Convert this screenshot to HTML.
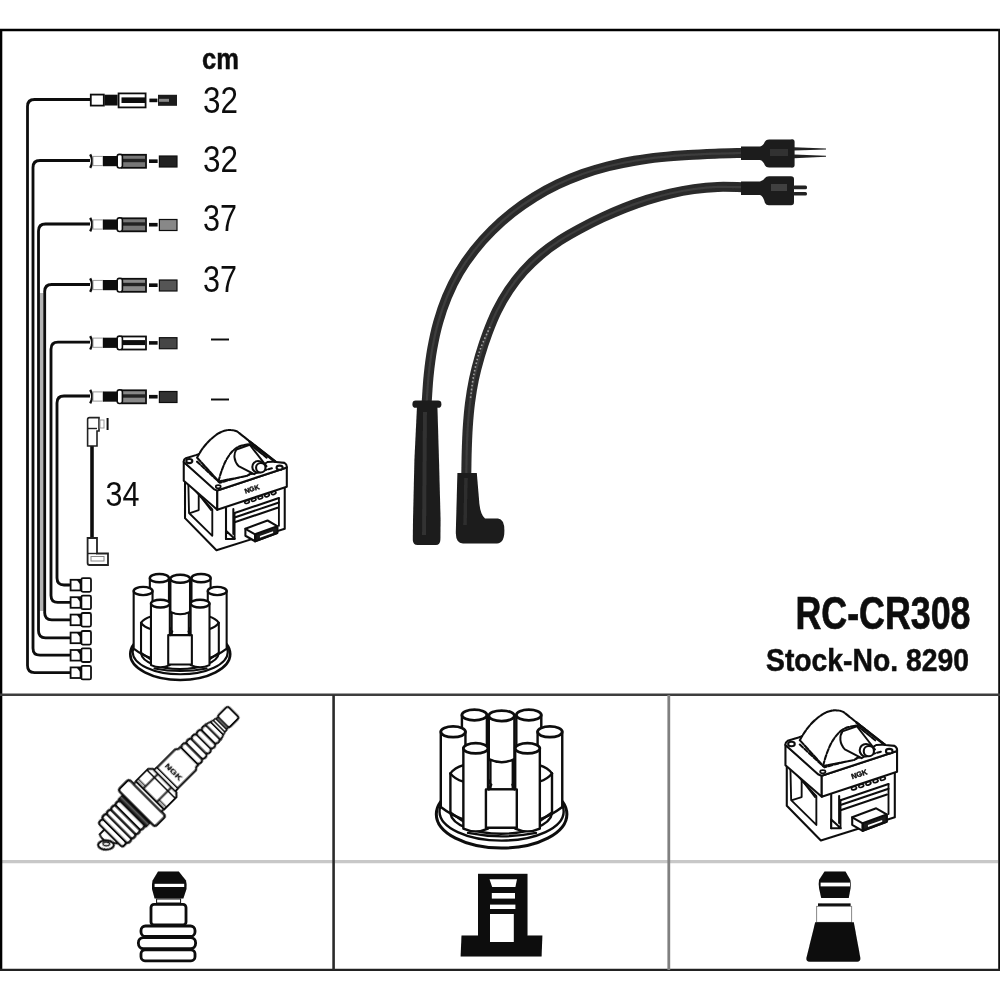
<!DOCTYPE html>
<html><head><meta charset="utf-8"><title>RC-CR308</title>
<style>
html,body{margin:0;padding:0;background:#fff;}
body{width:1000px;height:1000px;overflow:hidden;font-family:"Liberation Sans",sans-serif;}
svg{display:block;}
text{font-family:"Liberation Sans",sans-serif;fill:#111;}
.b{font-weight:bold;}
</style></head><body>
<svg width="1000" height="1000" viewBox="0 0 1000 1000">
<defs>
<filter id="soft" x="-5%" y="-5%" width="110%" height="110%"><feGaussianBlur stdDeviation="0.45"/></filter>
<filter id="soft2" x="-5%" y="-5%" width="110%" height="110%"><feGaussianBlur stdDeviation="0.7"/></filter>
<filter id="soft3" x="-5%" y="-5%" width="110%" height="110%"><feGaussianBlur stdDeviation="1.0"/></filter>
</defs>
<rect width="1000" height="1000" fill="#fff"/>
<!-- FRAME -->
<g id="frame" filter="url(#soft2)">
<line x1="2" y1="861.6" x2="998" y2="861.6" stroke="#c8c8c8" stroke-width="3.4"/>
<line x1="0" y1="30" x2="1000" y2="30" stroke="#000" stroke-width="2.4"/>
<line x1="1" y1="29" x2="1" y2="971" stroke="#000" stroke-width="2.6"/>
<line x1="999.2" y1="29" x2="999.2" y2="971" stroke="#111" stroke-width="2"/>
<line x1="0" y1="969.8" x2="1000" y2="969.8" stroke="#222" stroke-width="2.2"/>
<line x1="0" y1="694.8" x2="1000" y2="694.8" stroke="#3c3c3c" stroke-width="2.6"/>
<line x1="333.6" y1="695" x2="333.6" y2="970" stroke="#2c2c2c" stroke-width="2.6"/>
<line x1="668.8" y1="695" x2="668.8" y2="970" stroke="#808080" stroke-width="2.8"/>
</g>
<!-- TEXT -->
<g id="texts" filter="url(#soft)">
<text class="b" x="202" y="68.5" font-size="30" textLength="37" lengthAdjust="spacingAndGlyphs" stroke="#111" stroke-width="0.5">cm</text>
<text x="203" y="113" font-size="36" textLength="35" lengthAdjust="spacingAndGlyphs">32</text>
<text x="203" y="171.5" font-size="36" textLength="35" lengthAdjust="spacingAndGlyphs">32</text>
<text x="203" y="231" font-size="36" textLength="34" lengthAdjust="spacingAndGlyphs">37</text>
<text x="203" y="291.5" font-size="36" textLength="34" lengthAdjust="spacingAndGlyphs">37</text>
<rect x="211" y="338.5" width="18" height="2" fill="#111"/>
<rect x="211" y="398.5" width="18" height="2" fill="#111"/>
<text x="105.5" y="505.5" font-size="35" textLength="34" lengthAdjust="spacingAndGlyphs">34</text>
<text class="b" x="795.5" y="628.5" font-size="46" textLength="175" lengthAdjust="spacingAndGlyphs" stroke="#111" stroke-width="0.7">RC-CR308</text>
<text class="b" x="766" y="671" font-size="30.5" textLength="203" lengthAdjust="spacingAndGlyphs" stroke="#111" stroke-width="0.5">Stock-No. 8290</text>
</g>
<!-- LEFT WIRES -->
<g id="leftwires" filter="url(#soft)">
<line x1="41.6" y1="293" x2="41.6" y2="611" stroke="#b4b4b4" stroke-width="3.6"/>
<g fill="none" stroke="#0a0a0a" stroke-width="2.8" stroke-linecap="butt">
<path d="M90 99.5 H34.5 Q27.5 99.5 27.5 106.5 V665.6 Q27.5 672.6 34.5 672.6 H70.5"/>
<path d="M90 160.5 H40 Q33 160.5 33 167.5 V648.2 Q33 655.2 40 655.2 H70.5"/>
<path d="M90 224 H45.5 Q38.5 224 38.5 231 V630.8 Q38.5 637.8 45.5 637.8 H70.5"/>
<path d="M90 284.5 H51.7 Q44.7 284.5 44.7 291.5 V612.8 Q44.7 619.8 51.7 619.8 H70.5"/>
<path d="M90 342.2 H58 Q51 342.2 51 349.2 V595.4 Q51 602.4 58 602.4 H70.5"/>
<path d="M90 396 H64 Q57 396 57 403 V578 Q57 585 64 585 H70.5"/>
</g>
<rect x="90.8" y="94.6" width="13" height="11" fill="#fff" stroke="#111" stroke-width="1.8"/>
<rect x="104.4" y="94.7" width="13.2" height="10.8" fill="#0a0a0a"/>
<rect x="118.6" y="93.4" width="27" height="14" fill="#fff" stroke="#111" stroke-width="1.8"/>
<rect x="121.5" y="97.4" width="24.5" height="5.6" fill="#0a0a0a"/>
<rect x="149.4" y="98.6" width="8" height="3.6" fill="#0a0a0a"/>
<rect x="158" y="94.8" width="19" height="11" fill="#1a1a1a"/>
<rect x="159" y="98.8" width="10" height="3" fill="#888"/>
<path d="M90.2 154.4 Q94.2 161.0 90.2 167.8" fill="none" stroke="#111" stroke-width="2.4"/>
<rect x="93" y="156.4" width="10" height="9.2" fill="#fff" stroke="#999" stroke-width="1"/>
<rect x="103" y="156.0" width="14" height="10.2" fill="#0a0a0a"/>
<rect x="122" y="154.8" width="24" height="13" fill="#777" stroke="#111" stroke-width="1.8"/>
<rect x="123" y="158.8" width="22" height="3.4" fill="#222"/>
<rect x="117.2" y="154.4" width="5.2" height="13.6" rx="2.2" fill="#fff" stroke="#111" stroke-width="1.6"/>
<rect x="149" y="159.4" width="8.6" height="3.6" fill="#0a0a0a"/>
<rect x="159.4" y="156.0" width="17.6" height="11" fill="#222" stroke="#111" stroke-width="1.2"/>
<path d="M90.2 217.9 Q94.2 224.5 90.2 231.3" fill="none" stroke="#111" stroke-width="2.4"/>
<rect x="93" y="219.9" width="10" height="9.2" fill="#fff" stroke="#999" stroke-width="1"/>
<rect x="103" y="219.5" width="14" height="10.2" fill="#0a0a0a"/>
<rect x="122" y="218.3" width="24" height="13" fill="#777" stroke="#111" stroke-width="1.8"/>
<rect x="123" y="222.3" width="22" height="3.4" fill="#222"/>
<rect x="117.2" y="217.9" width="5.2" height="13.6" rx="2.2" fill="#fff" stroke="#111" stroke-width="1.6"/>
<rect x="149" y="222.9" width="8.6" height="3.6" fill="#0a0a0a"/>
<rect x="159.4" y="219.5" width="17.6" height="11" fill="#888" stroke="#111" stroke-width="1.2"/>
<path d="M90.2 278.4 Q94.2 285.0 90.2 291.8" fill="none" stroke="#111" stroke-width="2.4"/>
<rect x="93" y="280.4" width="10" height="9.2" fill="#fff" stroke="#999" stroke-width="1"/>
<rect x="103" y="280.0" width="14" height="10.2" fill="#0a0a0a"/>
<rect x="122" y="278.8" width="24" height="13" fill="#8a8a8a" stroke="#111" stroke-width="1.8"/>
<rect x="123" y="282.8" width="22" height="3.4" fill="#222"/>
<rect x="117.2" y="278.4" width="5.2" height="13.6" rx="2.2" fill="#fff" stroke="#111" stroke-width="1.6"/>
<rect x="149" y="283.4" width="8.6" height="3.6" fill="#0a0a0a"/>
<rect x="159.4" y="280.0" width="17.6" height="11" fill="#555" stroke="#111" stroke-width="1.2"/>
<path d="M90.2 336.09999999999997 Q94.2 342.7 90.2 349.5" fill="none" stroke="#111" stroke-width="2.4"/>
<rect x="93" y="338.09999999999997" width="10" height="9.2" fill="#fff" stroke="#999" stroke-width="1"/>
<rect x="103" y="337.7" width="14" height="10.2" fill="#0a0a0a"/>
<rect x="122" y="336.5" width="24" height="13" fill="#fff" stroke="#111" stroke-width="1.8"/>
<rect x="123" y="340.09999999999997" width="22" height="5" fill="#0a0a0a"/>
<rect x="117.2" y="336.09999999999997" width="5.2" height="13.6" rx="2.2" fill="#fff" stroke="#111" stroke-width="1.6"/>
<rect x="149" y="341.09999999999997" width="8.6" height="3.6" fill="#0a0a0a"/>
<rect x="159.4" y="337.7" width="17.6" height="11" fill="#444" stroke="#111" stroke-width="1.2"/>
<path d="M90.2 389.9 Q94.2 396.5 90.2 403.3" fill="none" stroke="#111" stroke-width="2.4"/>
<rect x="93" y="391.9" width="10" height="9.2" fill="#fff" stroke="#999" stroke-width="1"/>
<rect x="103" y="391.5" width="14" height="10.2" fill="#0a0a0a"/>
<rect x="122" y="390.3" width="24" height="13" fill="#888" stroke="#111" stroke-width="1.8"/>
<rect x="123" y="394.3" width="22" height="3.4" fill="#222"/>
<rect x="117.2" y="389.9" width="5.2" height="13.6" rx="2.2" fill="#fff" stroke="#111" stroke-width="1.6"/>
<rect x="149" y="394.9" width="8.6" height="3.6" fill="#0a0a0a"/>
<rect x="159.4" y="391.5" width="17.6" height="11" fill="#333" stroke="#111" stroke-width="1.2"/>
<rect x="70.6" y="667.4" width="10" height="10.6" fill="#fff" stroke="#111" stroke-width="1.8"/>
<path d="M76.5 667.4 L80.6 667.4 L80.6 672.6Z" fill="#111"/>
<rect x="81.4" y="665.8000000000001" width="9.6" height="13.6" rx="1.5" fill="#fff" stroke="#111" stroke-width="1.8"/>
<rect x="70.6" y="650.0" width="10" height="10.6" fill="#fff" stroke="#111" stroke-width="1.8"/>
<path d="M76.5 650.0 L80.6 650.0 L80.6 655.2Z" fill="#111"/>
<rect x="81.4" y="648.4000000000001" width="9.6" height="13.6" rx="1.5" fill="#fff" stroke="#111" stroke-width="1.8"/>
<rect x="70.6" y="632.5999999999999" width="10" height="10.6" fill="#fff" stroke="#111" stroke-width="1.8"/>
<path d="M76.5 632.5999999999999 L80.6 632.5999999999999 L80.6 637.8Z" fill="#111"/>
<rect x="81.4" y="631.0" width="9.6" height="13.6" rx="1.5" fill="#fff" stroke="#111" stroke-width="1.8"/>
<rect x="70.6" y="614.5999999999999" width="10" height="10.6" fill="#fff" stroke="#111" stroke-width="1.8"/>
<path d="M76.5 614.5999999999999 L80.6 614.5999999999999 L80.6 619.8Z" fill="#111"/>
<rect x="81.4" y="613.0" width="9.6" height="13.6" rx="1.5" fill="#fff" stroke="#111" stroke-width="1.8"/>
<rect x="70.6" y="597.1999999999999" width="10" height="10.6" fill="#fff" stroke="#111" stroke-width="1.8"/>
<path d="M76.5 597.1999999999999 L80.6 597.1999999999999 L80.6 602.4Z" fill="#111"/>
<rect x="81.4" y="595.6" width="9.6" height="13.6" rx="1.5" fill="#fff" stroke="#111" stroke-width="1.8"/>
<rect x="70.6" y="579.8" width="10" height="10.6" fill="#fff" stroke="#111" stroke-width="1.8"/>
<path d="M76.5 579.8 L80.6 579.8 L80.6 585Z" fill="#111"/>
<rect x="81.4" y="578.2" width="9.6" height="13.6" rx="1.5" fill="#fff" stroke="#111" stroke-width="1.8"/>
<line x1="92" y1="446" x2="92" y2="538" stroke="#0a0a0a" stroke-width="3.6"/>
<path d="M87.6 446 V419.5 Q87.6 417.6 89.5 417.6 H99 V431 H97 V446 Z" fill="#fff" stroke="#222" stroke-width="1.6"/>
<line x1="87.6" y1="428.5" x2="97" y2="428.5" stroke="#222" stroke-width="1.4"/>
<rect x="100" y="420" width="4" height="8" fill="#fff" stroke="#999" stroke-width="1"/>
<line x1="107.6" y1="418" x2="107.6" y2="430" stroke="#111" stroke-width="2"/>
<path d="M87.6 538 H97 V553.5 H108 V565 H89.5 Q87.6 565 87.6 563 Z" fill="#fff" stroke="#222" stroke-width="1.8"/>
<line x1="87.6" y1="553.5" x2="97" y2="553.5" stroke="#222" stroke-width="1.4"/>
<rect x="91" y="556.5" width="13" height="4.5" fill="#fff" stroke="#888" stroke-width="1"/>
</g>
<!-- CABLES -->
<g id="cables" filter="url(#soft2)">
<path d="M741.97 152.94 C737.52 153.06 724.18 153.33 715.23 153.66 C706.29 153.99 697.27 154.33 688.29 154.91 C679.31 155.49 670.29 156.15 661.35 157.12 C652.40 158.10 643.45 159.23 634.61 160.75 C625.77 162.26 616.96 164.02 608.29 166.23 C599.63 168.44 591.02 170.98 582.60 174.00 C574.18 177.03 565.85 180.48 557.78 184.36 C549.71 188.23 541.79 192.54 534.19 197.26 C526.58 201.98 519.18 207.13 512.16 212.68 C505.13 218.23 498.38 224.22 492.03 230.54 C485.68 236.86 479.59 243.58 474.07 250.61 C468.54 257.64 463.38 265.04 458.87 272.73 C454.35 280.42 450.41 288.50 446.97 296.74 C443.54 304.97 440.68 313.53 438.24 322.16 C435.79 330.78 433.91 339.64 432.32 348.49 C430.72 357.34 429.60 366.34 428.67 375.25 C427.73 384.16 427.04 397.50 426.71 401.95" fill="none" stroke="#2a2a2a" stroke-width="10"/>
<path d="M742.01 187.19 C737.97 187.15 725.79 186.60 717.76 186.92 C709.73 187.24 701.74 188.01 693.82 189.11 C685.90 190.21 678.03 191.72 670.24 193.51 C662.46 195.31 654.73 197.47 647.10 199.88 C639.46 202.30 631.89 205.03 624.42 207.98 C616.96 210.92 609.57 214.16 602.28 217.55 C595.00 220.95 587.79 224.55 580.73 228.36 C573.68 232.17 566.63 236.03 559.95 240.40 C553.26 244.78 546.73 249.46 540.64 254.61 C534.55 259.76 528.74 265.35 523.42 271.28 C518.11 277.21 513.19 283.58 508.75 290.20 C504.32 296.82 500.36 303.84 496.82 310.99 C493.28 318.14 490.32 325.63 487.50 333.13 C484.68 340.63 482.17 348.29 479.91 355.98 C477.65 363.68 475.59 371.45 473.94 379.28 C472.29 387.10 471.04 395.02 470.02 402.95 C469.00 410.89 468.35 418.89 467.80 426.89 C467.26 434.89 466.99 442.93 466.74 450.95 C466.49 458.97 466.36 470.99 466.29 475.00" fill="none" stroke="#2a2a2a" stroke-width="10"/>
<path d="M741.97 152.94 C737.52 153.06 724.18 153.33 715.23 153.66 C706.29 153.99 697.27 154.33 688.29 154.91 C679.31 155.49 670.29 156.15 661.35 157.12 C652.40 158.10 643.45 159.23 634.61 160.75 C625.77 162.26 616.96 164.02 608.29 166.23 C599.63 168.44 591.02 170.98 582.60 174.00 C574.18 177.03 565.85 180.48 557.78 184.36 C549.71 188.23 541.79 192.54 534.19 197.26 C526.58 201.98 519.18 207.13 512.16 212.68 C505.13 218.23 498.38 224.22 492.03 230.54 C485.68 236.86 479.59 243.58 474.07 250.61 C468.54 257.64 463.38 265.04 458.87 272.73 C454.35 280.42 450.41 288.50 446.97 296.74 C443.54 304.97 440.68 313.53 438.24 322.16 C435.79 330.78 433.91 339.64 432.32 348.49 C430.72 357.34 429.60 366.34 428.67 375.25 C427.73 384.16 427.04 397.50 426.71 401.95" fill="none" stroke="#444" stroke-width="2.2" opacity="0.7"/>
<path d="M742.01 187.19 C737.97 187.15 725.79 186.60 717.76 186.92 C709.73 187.24 701.74 188.01 693.82 189.11 C685.90 190.21 678.03 191.72 670.24 193.51 C662.46 195.31 654.73 197.47 647.10 199.88 C639.46 202.30 631.89 205.03 624.42 207.98 C616.96 210.92 609.57 214.16 602.28 217.55 C595.00 220.95 587.79 224.55 580.73 228.36 C573.68 232.17 566.63 236.03 559.95 240.40 C553.26 244.78 546.73 249.46 540.64 254.61 C534.55 259.76 528.74 265.35 523.42 271.28 C518.11 277.21 513.19 283.58 508.75 290.20 C504.32 296.82 500.36 303.84 496.82 310.99 C493.28 318.14 490.32 325.63 487.50 333.13 C484.68 340.63 482.17 348.29 479.91 355.98 C477.65 363.68 475.59 371.45 473.94 379.28 C472.29 387.10 471.04 395.02 470.02 402.95 C469.00 410.89 468.35 418.89 467.80 426.89 C467.26 434.89 466.99 442.93 466.74 450.95 C466.49 458.97 466.36 470.99 466.29 475.00" fill="none" stroke="#444" stroke-width="2.2" opacity="0.7"/>
<path d="M490.00 327.00 C488.33 330.83 482.71 342.00 480.00 350.00 C477.29 358.00 475.33 367.00 473.75 375.00 C472.17 383.00 471.04 394.17 470.50 398.00" fill="none" stroke="#bbb" stroke-width="1.6" stroke-dasharray="1.6 2.2" opacity="0.8"/>
<path d="M741 146.5 H760 Q763 146 765 141.5 Q766 139.6 769 139.6 H790 Q794.6 138 794.6 142 V165 Q794.6 168 791 167.6 H769 Q766 167.6 765 165.5 Q763 160.6 760 160 H741 Z" fill="#1c1c1c"/>
<path d="M794 147.2 L826 148.6 L826 149.6 L794 150.6 Z" fill="#222"/>
<path d="M794 154.6 L826 155.8 L826 156.8 L794 158.2 Z" fill="#222"/>
<rect x="770" y="149" width="18" height="7" fill="#3a3a3a" opacity="0.8"/>
<path d="M741 181.5 H760 Q763 181 765 178 Q766 176.2 769 176.2 H791 Q794 176.2 794 179 V202 Q794 205.2 791 205.2 H769 Q766 205.2 765 203 Q763 195.6 760 195 H741 Z" fill="#1c1c1c"/>
<rect x="793" y="185.6" width="14" height="3.6" rx="1.5" fill="#222"/>
<rect x="793" y="192" width="14" height="3.6" rx="1.5" fill="#222"/>
<rect x="771" y="184" width="16" height="7" fill="#4a4a4a" opacity="0.8"/>
<rect x="412.4" y="400.6" width="29" height="7.2" rx="3.4" fill="#1e1e1e"/>
<path d="M417 406 L437.4 406 L439 460 L440.6 520 L440.4 540 Q440 545 436 545 H417.5 Q413 545 412.8 540 L413 520 L414.4 460 Z" fill="#1e1e1e"/>
<path d="M425 412 L424 535" stroke="#363636" stroke-width="4" fill="none" opacity="0.8"/>
<path d="M457.4 473 H476.8 L479.4 504 Q480.6 515 485 518.4 H498 Q504.4 519 504.4 530.5 Q504.4 543.4 497 543.4 H463 Q456 543.4 455.8 533 Z" fill="#1a1a1a"/>
<path d="M466 478 L465 525" stroke="#343434" stroke-width="3.5" fill="none" opacity="0.8"/>
</g>
<!-- COIL1 -->
<g transform="translate(169.5,420.5) scale(0.1385)" fill="#fff" stroke="#111" stroke-width="15" stroke-linejoin="round" stroke-linecap="round" filter="url(#soft)">
<path d="M112 420 V705 L339 937 L832 782 V460 L345 620 Z"/>
<path d="M136 452 L309 641 V833 L141 668 Z" stroke-width="13.5"/>
<path d="M211 524 V647 L147 668 M221 545 L301 647" fill="none" stroke-width="13.5"/>
<path d="M408 631 V855 M461 640 V820" fill="none"/>
<path d="M408 796 L472 855 H408 Z" fill="#fff"/>
<path d="M470 668 L790 560 M470 700 L790 592 M470 735 L780 630" fill="none"/>
<path d="M470 668 V850 M790 560 V760" fill="none" stroke-width="13.5"/>
<g transform="translate(8,22)">
<path d="M540 760 L700 700 L770 740 V790 L610 850 L540 810 Z" fill="#fff"/>
<path d="M610 800 L770 742 V790 L610 850 Z" fill="#1a1a1a"/>
<path d="M645 812 L740 778 V790 L645 824 Z" fill="#fff" stroke="none"/>
<path d="M540 760 L610 800 V850" fill="none"/>
</g>
<path d="M103 300 L345 505 V645 L103 435 Z"/>
<path d="M345 505 L847 340 V478 L345 645 Z"/>
<ellipse cx="560" cy="588" rx="17" ry="10" transform="rotate(-18 560 588)" stroke-width="12.0"/>
<ellipse cx="608" cy="572" rx="17" ry="10" transform="rotate(-18 608 572)" stroke-width="12.0"/>
<ellipse cx="656" cy="556" rx="17" ry="10" transform="rotate(-18 656 556)" stroke-width="12.0"/>
<ellipse cx="704" cy="540" rx="17" ry="10" transform="rotate(-18 704 540)" stroke-width="12.0"/>
<ellipse cx="752" cy="524" rx="17" ry="10" transform="rotate(-18 752 524)" stroke-width="12.0"/>
<g transform="translate(548,528) rotate(-18)"><text x="0" y="0" font-size="50" font-weight="bold" stroke="#111" stroke-width="3" fill="#111" textLength="110" lengthAdjust="spacingAndGlyphs">NGK</text></g>
<path d="M103 300 Q100 282 118 272 L190 250 L480 150 L770 300 L830 306 Q850 318 847 340 L345 505 Q330 500 320 495 Z"/>
<path d="M199 297 L363 449 L739 345" fill="none" stroke-dasharray="28 14"/>
<ellipse cx="143" cy="293" rx="22" ry="15"/>
<ellipse cx="795" cy="341" rx="22" ry="15"/>
<ellipse cx="352" cy="478" rx="18" ry="11" stroke-width="12"/>
<path d="M199 268 C230 210 270 150 347 97 C380 76 420 66 443 69 C465 70 480 74 491 81 L763 297 L707 300 L560 400 L355 440 Z" stroke-dasharray="34 10"/>
<path d="M355 436 C365 390 395 300 427 257 C455 215 490 188 523 181 L579 169 L707 273" fill="none" stroke-dasharray="30 12"/>
<path d="M579 153 L763 297" fill="none" stroke-width="19.5"/>
<path d="M483 209 C462 240 462 290 499 329 L611 388 L700 330 L579 175 Z" stroke-width="14.25"/>
<circle cx="640" cy="335" r="42"/>
<circle cx="659" cy="341" r="34" />
</g>
<!-- CAP1 -->
<g transform="translate(117.75,562.82) scale(0.1225)" fill="#fff" stroke="#0d0d0d" stroke-width="17" stroke-linejoin="round" stroke-linecap="round" filter="url(#soft)">
<ellipse cx="510" cy="745" rx="408" ry="212" stroke-width="21.25"/>
<ellipse cx="510" cy="728" rx="388" ry="182"/>
<path d="M190 740 A318 135 0 0 0 825 740" />
<path d="M262 125 V420 H418 V125 Z"/>
<ellipse cx="340" cy="125" rx="78" ry="34" stroke-width="19.549999999999997"/>
<path d="M602 125 V420 H758 V125 Z"/>
<ellipse cx="680" cy="125" rx="78" ry="34" stroke-width="19.549999999999997"/>
<path d="M130 230 V700 Q207 760 284 780 V230 Z"/>
<ellipse cx="207" cy="230" rx="77" ry="34" stroke-width="19.549999999999997"/>
<path d="M889 230 V700 Q812 760 735 780 V230 Z"/>
<ellipse cx="812" cy="230" rx="77" ry="34" stroke-width="19.549999999999997"/>
<path d="M190 490 V735" fill="none"/>
<path d="M825 490 V735" fill="none"/>
<path d="M190 490 Q215 455 272 438" fill="none"/>
<path d="M190 490 Q215 525 272 542" fill="none"/>
<path d="M825 490 Q800 455 745 438" fill="none"/>
<path d="M825 490 Q800 525 745 542" fill="none"/>
<path d="M190 735 L272 790" fill="none"/>
<path d="M825 735 L745 790" fill="none"/>
<path d="M430 130 V405 Q510 440 590 405 V130 Z"/>
<ellipse cx="510" cy="130" rx="80" ry="33" stroke-width="19.549999999999997"/>
<path d="M440 415 V590 H580 V415" />
<path d="M430 400 Q510 440 590 400" fill="none"/>
<path d="M271 333 V835 Q348 870 425 835 V333 Z"/>
<ellipse cx="348" cy="333" rx="77" ry="32" stroke-width="19.549999999999997"/>
<path d="M595 333 V835 Q672 870 749 835 V333 Z"/>
<ellipse cx="672" cy="333" rx="77" ry="32" stroke-width="19.549999999999997"/>
<path d="M412 830 V590 H605 V830 Z"/>
<path d="M430 590 L445 560 M590 590 L578 560" fill="none"/>
<path d="M300 862 Q510 905 725 862" fill="none"/>
</g>
<!-- PLUG -->
<g transform="translate(99.6,845.7) rotate(-45)" fill="#fff" stroke="#0d0d0d" stroke-width="2" stroke-linejoin="round" stroke-linecap="round" filter="url(#soft)">
<path d="M15 -8 L8 -8 Q6 -3 8 3 L15 12" fill="none" stroke-width="2"/>
<ellipse cx="5" cy="4" rx="7.8" ry="4.6" transform="rotate(45 5 4)" stroke-width="2.3"/>
<ellipse cx="6" cy="3.6" rx="3.4" ry="1.8" transform="rotate(45 6 3.6)" stroke-width="1.6"/>
<rect x="15.00" y="-17.2" width="6.20" height="34.4" rx="2.8" stroke-width="2.3"/>
<rect x="21.20" y="-18.5" width="6.20" height="37.0" rx="2.8" stroke-width="2.3"/>
<rect x="27.40" y="-18.5" width="6.20" height="37.0" rx="2.8" stroke-width="2.3"/>
<rect x="33.60" y="-18.5" width="6.20" height="37.0" rx="2.8" stroke-width="2.3"/>
<rect x="39.80" y="-18.5" width="6.20" height="37.0" rx="2.8" stroke-width="2.3"/>
<rect x="46" y="-19.5" width="6.5" height="39" fill="#222" stroke-width="1.5"/>
<path d="M49.2 -19 V19" stroke="#777" stroke-width="1" fill="none"/>
<rect x="52.5" y="-26.2" width="15.2" height="52" rx="2.8" stroke-width="2.4"/>
<rect x="67.7" y="-19.5" width="3.6" height="39" stroke-width="1.9"/>
<path d="M71.3 -20 H88.5 L92 -16.5 V16.5 L88.5 20 H71.3 Z" stroke-width="2.2"/>
<path d="M71.3 -9.5 H91 M71.3 9.5 H91 M87 -20 V20" fill="none" stroke-width="1.9"/>
<path d="M74.5 -20 V-9.5 M74.5 9.5 V20" fill="none" stroke-width="1.5"/>
<path d="M92 -15 H95.5 V-14.6 H121.5 L124 -12.6 H127 V12.6 H124 L121.5 14.6 H95.5 V15 H92 Z" stroke-width="2.2"/>
<path d="M95.8 -14.6 V14.6" fill="none" stroke-width="1.7"/>
<g transform="translate(102.2,0) rotate(90)"><text x="-10.5" y="0" font-size="7.5" font-weight="bold" stroke="#111" stroke-width="0.4" fill="#111" textLength="21" lengthAdjust="spacingAndGlyphs">NGK</text></g>
<rect x="127.00" y="-12.80" width="6.70" height="25.60" rx="3" stroke-width="2.2"/>
<rect x="133.70" y="-12.30" width="6.70" height="24.60" rx="3" stroke-width="2.2"/>
<rect x="140.40" y="-11.80" width="6.70" height="23.60" rx="3" stroke-width="2.2"/>
<rect x="147.10" y="-11.30" width="6.70" height="22.60" rx="3" stroke-width="2.2"/>
<rect x="153.80" y="-10.80" width="6.70" height="21.60" rx="3" stroke-width="2.2"/>
<path d="M160.5 -10.8 L166 -9 V9 L160.5 10.8 Z" stroke-width="1.9"/>
<rect x="166" y="-8.6" width="3" height="17.2" rx="1" stroke-width="1.7"/>
<rect x="169" y="-8.2" width="3" height="16.4" rx="1" stroke-width="1.7"/>
<rect x="172" y="-7.4" width="2.6" height="14.8" rx="1" stroke-width="1.7"/>
<rect x="174.6" y="-8.1" width="14.6" height="16.2" rx="2.4" stroke-width="2.2"/>
</g>
<!-- CAP2 -->
<g transform="translate(420,695) scale(0.16)" fill="#fff" stroke="#0d0d0d" stroke-width="15" stroke-linejoin="round" stroke-linecap="round" filter="url(#soft)">
<ellipse cx="510" cy="745" rx="408" ry="212" stroke-width="18.75"/>
<ellipse cx="510" cy="728" rx="388" ry="182"/>
<path d="M190 740 A318 135 0 0 0 825 740" />
<path d="M262 125 V420 H418 V125 Z"/>
<ellipse cx="340" cy="125" rx="78" ry="34" stroke-width="17.25"/>
<path d="M602 125 V420 H758 V125 Z"/>
<ellipse cx="680" cy="125" rx="78" ry="34" stroke-width="17.25"/>
<path d="M130 230 V700 Q207 760 284 780 V230 Z"/>
<ellipse cx="207" cy="230" rx="77" ry="34" stroke-width="17.25"/>
<path d="M889 230 V700 Q812 760 735 780 V230 Z"/>
<ellipse cx="812" cy="230" rx="77" ry="34" stroke-width="17.25"/>
<path d="M190 490 V735" fill="none"/>
<path d="M825 490 V735" fill="none"/>
<path d="M190 490 Q215 455 272 438" fill="none"/>
<path d="M190 490 Q215 525 272 542" fill="none"/>
<path d="M825 490 Q800 455 745 438" fill="none"/>
<path d="M825 490 Q800 525 745 542" fill="none"/>
<path d="M190 735 L272 790" fill="none"/>
<path d="M825 735 L745 790" fill="none"/>
<path d="M430 130 V405 Q510 440 590 405 V130 Z"/>
<ellipse cx="510" cy="130" rx="80" ry="33" stroke-width="17.25"/>
<path d="M440 415 V590 H580 V415" />
<path d="M430 400 Q510 440 590 400" fill="none"/>
<path d="M271 333 V835 Q348 870 425 835 V333 Z"/>
<ellipse cx="348" cy="333" rx="77" ry="32" stroke-width="17.25"/>
<path d="M595 333 V835 Q672 870 749 835 V333 Z"/>
<ellipse cx="672" cy="333" rx="77" ry="32" stroke-width="17.25"/>
<path d="M412 830 V590 H605 V830 Z"/>
<path d="M430 590 L445 560 M590 590 L578 560" fill="none"/>
<path d="M300 862 Q510 905 725 862" fill="none"/>
</g>
<!-- COIL2 -->
<g transform="translate(770,700) scale(0.15)" fill="#fff" stroke="#111" stroke-width="14" stroke-linejoin="round" stroke-linecap="round" filter="url(#soft)">
<path d="M112 420 V705 L339 937 L832 782 V460 L345 620 Z"/>
<path d="M136 452 L309 641 V833 L141 668 Z" stroke-width="12.6"/>
<path d="M211 524 V647 L147 668 M221 545 L301 647" fill="none" stroke-width="12.6"/>
<path d="M408 631 V855 M461 640 V820" fill="none"/>
<path d="M408 796 L472 855 H408 Z" fill="#fff"/>
<path d="M470 668 L790 560 M470 700 L790 592 M470 735 L780 630" fill="none"/>
<path d="M470 668 V850 M790 560 V760" fill="none" stroke-width="12.6"/>
<g transform="translate(8,22)">
<path d="M540 760 L700 700 L770 740 V790 L610 850 L540 810 Z" fill="#fff"/>
<path d="M610 800 L770 742 V790 L610 850 Z" fill="#1a1a1a"/>
<path d="M645 812 L740 778 V790 L645 824 Z" fill="#fff" stroke="none"/>
<path d="M540 760 L610 800 V850" fill="none"/>
</g>
<path d="M103 300 L345 505 V645 L103 435 Z"/>
<path d="M345 505 L847 340 V478 L345 645 Z"/>
<ellipse cx="560" cy="588" rx="17" ry="10" transform="rotate(-18 560 588)" stroke-width="11.200000000000001"/>
<ellipse cx="608" cy="572" rx="17" ry="10" transform="rotate(-18 608 572)" stroke-width="11.200000000000001"/>
<ellipse cx="656" cy="556" rx="17" ry="10" transform="rotate(-18 656 556)" stroke-width="11.200000000000001"/>
<ellipse cx="704" cy="540" rx="17" ry="10" transform="rotate(-18 704 540)" stroke-width="11.200000000000001"/>
<ellipse cx="752" cy="524" rx="17" ry="10" transform="rotate(-18 752 524)" stroke-width="11.200000000000001"/>
<g transform="translate(548,528) rotate(-18)"><text x="0" y="0" font-size="50" font-weight="bold" stroke="#111" stroke-width="3" fill="#111" textLength="110" lengthAdjust="spacingAndGlyphs">NGK</text></g>
<path d="M103 300 Q100 282 118 272 L190 250 L480 150 L770 300 L830 306 Q850 318 847 340 L345 505 Q330 500 320 495 Z"/>
<path d="M199 297 L363 449 L739 345" fill="none" stroke-dasharray="28 14"/>
<ellipse cx="143" cy="293" rx="22" ry="15"/>
<ellipse cx="795" cy="341" rx="22" ry="15"/>
<ellipse cx="352" cy="478" rx="18" ry="11" stroke-width="11.2"/>
<path d="M199 268 C230 210 270 150 347 97 C380 76 420 66 443 69 C465 70 480 74 491 81 L763 297 L707 300 L560 400 L355 440 Z" stroke-dasharray="34 10"/>
<path d="M355 436 C365 390 395 300 427 257 C455 215 490 188 523 181 L579 169 L707 273" fill="none" stroke-dasharray="30 12"/>
<path d="M579 153 L763 297" fill="none" stroke-width="18.2"/>
<path d="M483 209 C462 240 462 290 499 329 L611 388 L700 330 L579 175 Z" stroke-width="13.3"/>
<circle cx="640" cy="335" r="42"/>
<circle cx="659" cy="341" r="34" />
</g>
<!-- ICONS -->
<g id="icon1" filter="url(#soft)">
<path d="M158 871.5 H178.8 L186 880.5 Q187 884 186.5 889 L183.4 898.5 H154.6 L152 889 Q151.6 884 152.6 880.5 Z" fill="#0a0a0a"/>
<rect x="154.6" y="883.8" width="29.6" height="3.2" fill="#fff"/>
<rect x="156.6" y="899" width="24" height="4" fill="#fff" stroke="#111" stroke-width="1"/>
<rect x="151" y="904.4" width="35" height="20.6" rx="3" fill="#fff" stroke="#0a0a0a" stroke-width="2.8"/>
<rect x="141" y="926" width="54" height="10.4" rx="4.5" fill="#fff" stroke="#0a0a0a" stroke-width="2.8"/>
<rect x="138.4" y="937.6" width="57.2" height="11" rx="5" fill="#fff" stroke="#0a0a0a" stroke-width="2.8"/>
<rect x="141" y="949.8" width="54" height="11" rx="4" fill="#fff" stroke="#0a0a0a" stroke-width="2.8"/>
</g>
<g id="icon2" filter="url(#soft)">
<rect x="478" y="873.8" width="49.5" height="63" fill="#0a0a0a"/>
<path d="M461.5 935.4 H542.4 L541.6 956.4 H460.6 Z" fill="#0a0a0a"/>
<path d="M489.5 879.3 H517 L515.4 887 H492.2 Z" fill="#fff"/>
<rect x="491.8" y="893" width="23.2" height="5.6" fill="#fff"/>
<rect x="490" y="904.6" width="25.4" height="4.4" fill="#fff"/>
<rect x="490" y="914" width="23.8" height="28" fill="#fff"/>
</g>
<g id="icon3" filter="url(#soft)">
<path d="M824.5 871.5 H845.5 L850.4 880 Q851 884 850.6 888 L848.8 898 H821.2 L819 888 Q818.4 884 819 880 Z" fill="#0a0a0a"/>
<rect x="820.6" y="882.6" width="29.4" height="3.8" fill="#fff"/>
<rect x="822" y="898.2" width="26.4" height="5.2" fill="#fff"/>
<rect x="818" y="903.4" width="32.6" height="3" fill="#0a0a0a"/>
<rect x="816.6" y="906.4" width="35" height="16" fill="#fff" stroke="#888" stroke-width="1"/>
<path d="M815.2 922.2 H853.8 L860.4 958 Q860.6 961.8 857 961.8 H809.6 Q806 961.8 806.4 958 Z" fill="#0a0a0a"/>
</g>
</svg>
</body></html>
